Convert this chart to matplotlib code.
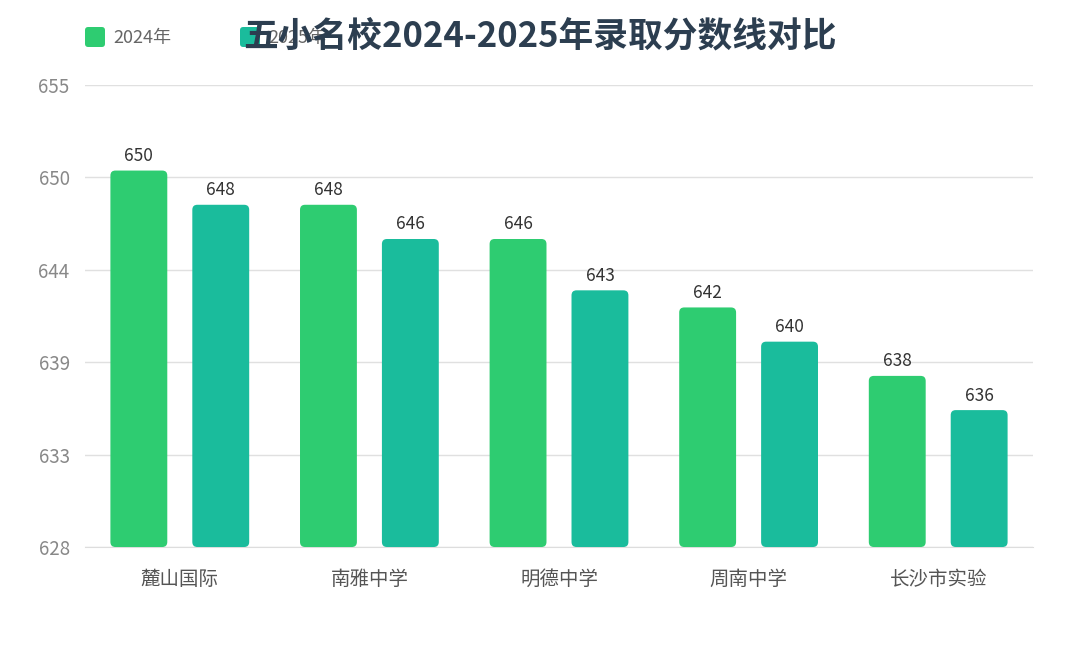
import matplotlib
matplotlib.use("Agg")
import matplotlib.pyplot as plt
from matplotlib.patches import FancyBboxPatch
import numpy as np

plt.rcParams['font.family'] = ['Noto Sans CJK SC', 'DejaVu Sans']

categories = ["麓山国际", "南雅中学", "明德中学", "周南中学", "长沙市实验"]
series_names = ["2024年", "2025年"]
scores_2024 = [650, 648, 646, 642, 638]
scores_2025 = [648, 646, 643, 640, 636]
y_ticks = [628, 633.4, 638.8, 644.2, 649.6, 655]
y_tick_labels = ["628", "633", "639", "644", "650", "655"]
colors = ["#2ecc71", "#1abc9c"]

fig = plt.figure(figsize=(10.8, 6.48), dpi=100)
ax = fig.add_axes([85/1080, 101/648, 948/1080, 462/648])
ymin, ymax = 628, 655
ax.set_xlim(-0.5, len(categories) - 0.5)
ax.set_ylim(ymin, ymax)

x = np.arange(len(categories))
width = 0.30
offsets = [-0.216, 0.216]
px_x = 948 / len(categories)
px_y = 462 / (ymax - ymin)
aspect = px_x / px_y
r = 5 / px_x

for vals, off, col in zip([scores_2024, scores_2025], offsets, colors):
    bars = ax.bar(x + off, np.array(vals) - ymin, width, bottom=ymin, color=col)
    for b, v in zip(bars, vals):
        bx, by, bw, bh = b.get_x(), b.get_y(), b.get_width(), b.get_height()
        b.remove()
        p = FancyBboxPatch((bx, by), bw, bh,
                           boxstyle=f"round,pad=0,rounding_size={r}",
                           mutation_aspect=aspect, facecolor=col, edgecolor='none', zorder=3)
        ax.add_patch(p)
        ax.annotate(str(v), (bx + bw / 2, v), xytext=(0, 4), textcoords='offset points',
                    ha='center', va='bottom', fontsize=12.5, color='#333333', zorder=4)

ax.set_yticks(y_ticks)
ax.set_yticklabels(y_tick_labels)
ax.set_xticks(x)
ax.set_xticklabels(categories)
ax.tick_params(axis='y', length=0, pad=11, labelsize=13.5, labelcolor='#888888')
ax.tick_params(axis='x', length=0, pad=16, labelsize=14, labelcolor='#555555')
ax.grid(axis='y', color='#e0e0e0', linewidth=1, zorder=0)
ax.set_axisbelow(True)
for s in ['top', 'right', 'left']:
    ax.spines[s].set_visible(False)
ax.spines['bottom'].set_color('#dddddd')

# legend
leg_x = [85, 240]
for lx, name, col in zip(leg_x, series_names, colors):
    fig.patches.append(FancyBboxPatch((lx / 1080, 1 - 47 / 648), 20 / 1080, 20 / 648,
                                      boxstyle="round,pad=0,rounding_size=0.003",
                                      mutation_aspect=1080 / 648,
                                      transform=fig.transFigure, facecolor=col, edgecolor='none'))
    fig.text((lx + 28) / 1080, 1 - 38 / 648, name, fontsize=13, color='#666666',
             ha='left', va='center')

fig.text(540 / 1080, 1 - 37 / 648, "五小名校2024-2025年录取分数线对比", fontsize=25,
         fontweight='bold', color='#2c3e50', ha='center', va='center')

fig.savefig("out.png", dpi=100, facecolor='white')
